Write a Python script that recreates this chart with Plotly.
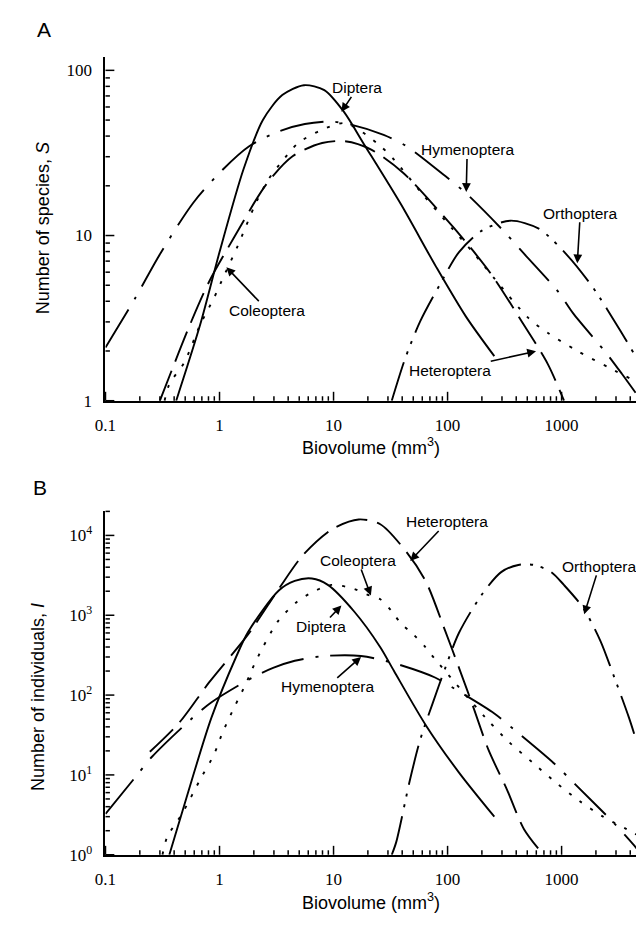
import math
import plotly.graph_objects as go

W, H = 644, 925

# ---------------- Panel A : number of species, S ----------------
a_dip_x = [0.417, 0.676, 1.0, 1.62, 2.40, 3.55, 5.5, 8.3, 12.3, 18.6, 38.9, 79.4, 144.5, 257]
a_dip_y = [1.0, 2.88, 7.94, 25.1, 50.1, 70.8, 81.3, 75.9, 56.2, 35.5, 15.5, 6.46, 3.24, 1.86]

a_hym_x = [0.1, 0.182, 0.302, 0.589, 1.07, 1.82, 3.31, 5.6, 9.5, 14.5, 27.5, 43.7, 95.5, 148, 316, 468, 933, 1259, 2512, 3388, 5000]
a_hym_y = [2.1, 4.17, 7.76, 15.8, 25.1, 34.7, 42.7, 47.3, 49.0, 46.8, 40.7, 34.7, 22.9, 17.8, 10.5, 7.76, 4.57, 3.39, 1.91, 1.45, 1.0]

a_col_x = [0.33, 0.363, 0.49, 0.676, 0.891, 1.10, 1.45, 2.09, 2.69, 3.55, 4.90, 7.94, 12.6, 24.0, 33.9, 60.3, 110, 166, 257, 513, 759, 1380, 2630, 5000]
a_col_y = [1.0, 1.26, 1.70, 2.88, 4.17, 5.75, 8.71, 15.8, 21.9, 28.2, 36.3, 43.7, 47.9, 36.3, 28.8, 17.8, 11.0, 7.94, 5.5, 3.16, 2.57, 2.0, 1.58, 1.26]

a_het_x = [0.30, 0.55, 0.81, 1.32, 2.57, 4.37, 7.94, 12.6, 21.4, 40.7, 91.2, 145, 245, 447, 759, 1050]
a_het_y = [1.0, 2.88, 5.25, 9.55, 20.4, 30.2, 36.3, 37.2, 33.1, 24.0, 13.2, 9.12, 5.75, 3.02, 1.66, 1.0]

a_ort_x = [32.4, 42.7, 57.5, 85.1, 126, 200, 355, 631, 1122, 1905, 3236, 5000]
a_ort_y = [1.0, 1.82, 3.02, 5.01, 7.94, 10.7, 12.3, 11.0, 7.59, 4.79, 2.69, 1.62]

# ---------------- Panel B : number of individuals, I ----------------
b_dip_x = [0.363, 0.575, 0.851, 1.40, 1.78, 3.31, 4.57, 6.46, 8.91, 15.1, 25.7, 33.9, 64.6, 126, 257]
b_dip_y = [1.0, 8.9, 52.5, 302, 617, 2042, 2692, 2884, 2399, 1122, 398, 200, 41.7, 10.7, 3.0]

b_col_x = [0.316, 0.347, 0.468, 0.692, 0.891, 1.07, 1.35, 1.70, 2.09, 3.24, 4.79, 6.17, 9.55, 15.1, 19.5, 25.7, 32.4, 38.9, 50.1, 63.1, 77.6, 214, 347, 562, 933, 1445, 2291, 3715, 5000]
b_col_y = [1.0, 1.66, 3.24, 9.3, 17.8, 34.7, 70.8, 138, 269, 832, 1479, 1862, 2399, 2138, 1820, 1585, 1122, 794, 575, 407, 282, 52.5, 25.7, 14.1, 7.6, 4.68, 3.02, 2.09, 1.66]

b_het_x = [0.245, 0.447, 0.813, 1.78, 3.31, 5.37, 9.77, 16.6, 25.7, 43.7, 64.6, 95.5, 129, 170, 229, 331, 468, 692]
b_het_y = [19.5, 45.7, 145, 575, 2138, 5623, 12023, 15849, 13804, 6166, 2630, 631, 200, 67.6, 20.4, 6.6, 2.09, 1.0]

b_hym_x = [0.1, 0.182, 0.257, 0.575, 0.851, 1.95, 2.95, 4.57, 8.32, 17.4, 33.9, 77.6, 115, 257, 389, 851, 1318, 2951, 4365, 5000]
b_hym_y = [3.24, 9.3, 17.0, 51.3, 81.3, 166, 219, 269, 309, 309, 251, 166, 120, 58.9, 36.3, 14.1, 7.6, 2.40, 1.29, 1.0]

b_ort_x = [32.4, 35.5, 46.8, 57.5, 74.1, 95.5, 126, 200, 295, 417, 575, 813, 1047, 1549, 2188, 2818, 3890, 5000]
b_ort_y = [1.0, 1.45, 8.7, 27.5, 79.4, 219, 603, 1820, 3467, 4266, 4266, 3467, 2399, 1230, 479, 186, 52.5, 17.0]

x_tickvals = [0.1, 1, 10, 100, 1000]
x_ticktext = ["0.1", "1", "10", "100", "1000"]
a_y_tickvals = [1, 10, 100]
a_y_ticktext = ["1", "10", "100"]
b_y_tickvals = [1, 10, 100, 1000, 10000]
b_y_ticktext = ["10<sup>0</sup>", "10<sup>1</sup>", "10<sup>2</sup>", "10<sup>3</sup>", "10<sup>4</sup>"]

# line styles
DASH = {
    "Diptera": "solid",
    "Hymenoptera": "44px,12px,3px,12px",
    "Coleoptera": "3px,10px",
    "Heteroptera": "32px,10px",
    "Orthoptera": "40px,9px,3px,8px,3px,9px",
}

fig = go.Figure()

def add(name, xs, ys, xa, ya):
    fig.add_trace(go.Scatter(
        x=xs, y=ys, mode="lines", name=name, showlegend=False,
        line=dict(color="black", width=1.9, dash=DASH[name], shape="spline", smoothing=0.8),
        xaxis=xa, yaxis=ya, hoverinfo="skip"))

add("Diptera", a_dip_x, a_dip_y, "x", "y")
add("Hymenoptera", a_hym_x, a_hym_y, "x", "y")
add("Coleoptera", a_col_x, a_col_y, "x", "y")
add("Heteroptera", a_het_x, a_het_y, "x", "y")
add("Orthoptera", a_ort_x, a_ort_y, "x", "y")

add("Diptera", b_dip_x, b_dip_y, "x2", "y2")
add("Hymenoptera", b_hym_x, b_hym_y, "x2", "y2")
add("Coleoptera", b_col_x, b_col_y, "x2", "y2")
add("Heteroptera", b_het_x, b_het_y, "x2", "y2")
add("Orthoptera", b_ort_x, b_ort_y, "x2", "y2")

tickfont = dict(family="Liberation Serif", size=17, color="black")
XDOM = [88 / W, 633 / W]
XRANGE = [-1, 3.698]
A_YDOM = [1 - 397 / H, 1 - 50 / H]
B_YDOM = [1 - 856 / H, 1 - 508 / H]
A_YRANGE = [0, 2.078]
B_YRANGE = [0, 4.312]

def axis(domain, rng, tv, tt, anchor):
    return dict(
        type="log", range=rng, domain=domain, anchor=anchor,
        showline=True, linecolor="black", linewidth=2, mirror=False,
        showgrid=False, zeroline=False,
        ticks="", tickmode="array", tickvals=tv, ticktext=tt,
        tickfont=tickfont, ticklabelstandoff=8,
    )

fig.update_layout(
    width=W, height=H, margin=dict(l=0, r=0, t=0, b=0),
    paper_bgcolor="white", plot_bgcolor="white",
    xaxis=axis(XDOM, XRANGE, x_tickvals, x_ticktext, "y"),
    yaxis=axis(A_YDOM, A_YRANGE, a_y_tickvals, a_y_ticktext, "x"),
    xaxis2=axis(XDOM, XRANGE, x_tickvals, x_ticktext, "y2"),
    yaxis2=axis(B_YDOM, B_YRANGE, b_y_tickvals, b_y_ticktext, "x2"),
)

# ---- inward tick marks (major at decades, minor at 2..9) ----
def frac(v, dom, rng):
    return dom[0] + (math.log10(v) - rng[0]) / (rng[1] - rng[0]) * (dom[1] - dom[0])

shapes = []
tick_line = dict(color="black", width=1.5)

def ticks_for(rng):
    out = []
    lo, hi = math.floor(rng[0]), math.ceil(rng[1])
    for e in range(lo, hi + 1):
        for d in range(1, 10):
            v = d * 10 ** e
            lv = math.log10(v)
            if rng[0] - 1e-9 <= lv <= rng[1] + 1e-9:
                out.append((v, d == 1))
    return out

for ydom in (A_YDOM, B_YDOM):
    for v, is_major in ticks_for(XRANGE):
        L = 9 if is_major else 4.5
        xf = frac(v, XDOM, XRANGE)
        shapes.append(dict(type="line", xref="paper", yref="paper", x0=xf, x1=xf,
                           y0=ydom[0], y1=ydom[0] + L / H, line=tick_line, layer="above"))

for ydom, yrng in ((A_YDOM, A_YRANGE), (B_YDOM, B_YRANGE)):
    for v, is_major in ticks_for(yrng):
        L = 9 if is_major else 4.5
        yf = frac(v, ydom, yrng)
        shapes.append(dict(type="line", xref="paper", yref="paper", x0=XDOM[0], x1=XDOM[0] + L / W,
                           y0=yf, y1=yf, line=tick_line, layer="above"))

fig.update_layout(shapes=shapes)

def px(x, y):
    return x / W, 1 - y / H

annots = []
sans = "Liberation Sans"

# Panel letters
for txt, x, y in [("A", 25, 22), ("B", 21, 485)]:
    X, Y = px(x, y)
    annots.append(dict(text=txt, x=X, y=Y, xref="paper", yref="paper", showarrow=False,
                       font=dict(family=sans, size=21, color="black"), xanchor="center", yanchor="middle"))

# Axis titles
for txt, x, y, ang in [
    ("Biovolume (mm<sup>3</sup>)", 358, 443, 0),
    ("Biovolume (mm<sup>3</sup>)", 358, 903, 0),
    ("Number of species, <i>S</i>", 24, 223, -90),
    ("Number of individuals, <i>I</i>", 20, 697, -90),
]:
    X, Y = px(x, y)
    annots.append(dict(text=txt, x=X, y=Y, xref="paper", yref="paper", showarrow=False, textangle=ang,
                       font=dict(family=sans, size=18, color="black"), xanchor="center", yanchor="middle"))

# Curve labels with arrows: text, text centre (px), arrow head (px)
labels = [
    ("Diptera", 344, 81, 328, 105),
    ("Hymenoptera", 456, 144, 455, 186),
    ("Orthoptera", 571, 208, 568, 258),
    ("Heteroptera", 440, 366, 526, 347),
    ("Coleoptera", 252, 305, 211, 262),
    ("Heteroptera", 435, 520, 398, 559),
    ("Coleoptera", 345, 559, 358, 594),
    ("Diptera", 308, 625, 328, 604),
    ("Hymenoptera", 314, 686, 348, 656),
    ("Orthoptera", 590, 565, 575, 613),
]
for txt, tx, ty, hx, hy in labels:
    HX, HY = px(hx, hy)
    annots.append(dict(text=txt, x=HX, y=HY, xref="paper", yref="paper", showarrow=True,
                       ax=tx - hx, ay=ty - hy, axref="pixel", ayref="pixel",
                       arrowhead=2, arrowsize=1.1, arrowwidth=1.6, arrowcolor="black",
                       standoff=0, borderpad=0,
                       font=dict(family=sans, size=15.5, color="black")))

fig.update_layout(annotations=annots)

fig.write_html("out.html")
